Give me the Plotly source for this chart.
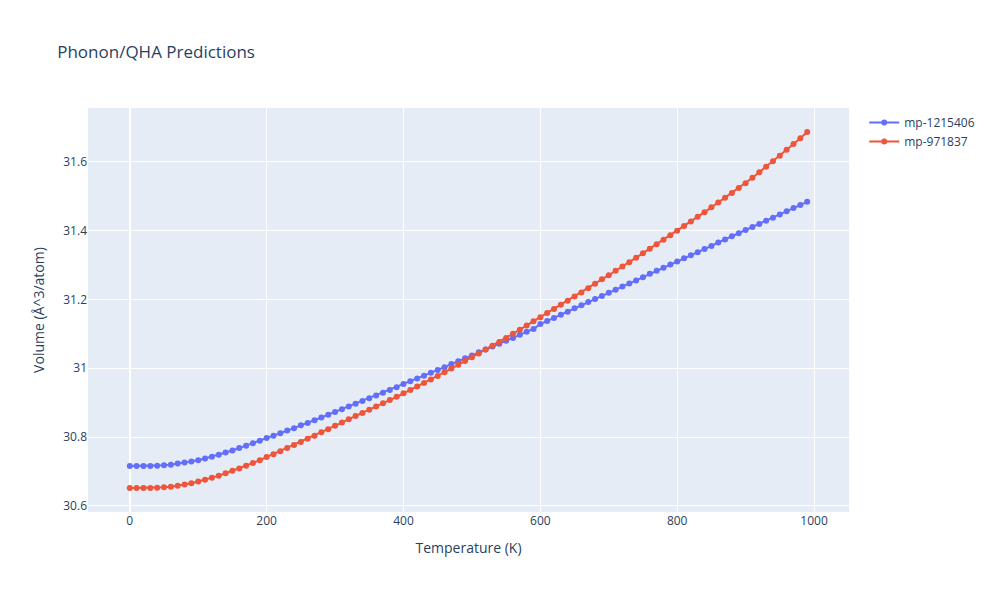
import plotly.graph_objects as go

temps = list(range(0, 1000, 10))
blue = [30.716,30.716,30.716,30.716,30.717,30.718,30.720,30.723,30.726,30.729,
30.733,30.738,30.743,30.749,30.755,30.761,30.768,30.775,30.782,30.789,
30.797,30.804,30.811,30.819,30.826,30.834,30.841,30.849,30.857,30.865,
30.873,30.881,30.889,30.897,30.905,30.913,30.921,30.929,30.937,30.945,
30.954,30.962,30.970,30.978,30.987,30.995,31.003,31.012,31.020,31.029,
31.037,31.046,31.054,31.063,31.071,31.080,31.088,31.097,31.106,31.114,
31.128,31.137,31.146,31.155,31.164,31.174,31.183,31.192,31.201,31.210,
31.219,31.228,31.237,31.246,31.255,31.264,31.274,31.283,31.292,31.301,
31.310,31.319,31.328,31.337,31.346,31.355,31.365,31.374,31.383,31.392,
31.401,31.410,31.419,31.428,31.437,31.446,31.456,31.465,31.474,31.483]
red = [30.652,30.652,30.652,30.652,30.653,30.654,30.656,30.659,30.662,30.666,
30.671,30.676,30.682,30.688,30.695,30.702,30.709,30.717,30.725,30.733,
30.742,30.750,30.759,30.768,30.777,30.786,30.795,30.804,30.814,30.823,
30.833,30.842,30.852,30.861,30.870,30.879,30.889,30.898,30.908,30.917,
30.927,30.937,30.947,30.957,30.967,30.977,30.988,30.999,31.010,31.021,
31.032,31.043,31.054,31.065,31.076,31.088,31.100,31.112,31.124,31.136,
31.148,31.160,31.172,31.184,31.196,31.208,31.220,31.232,31.245,31.258,
31.270,31.283,31.295,31.308,31.321,31.334,31.347,31.360,31.373,31.386,
31.399,31.413,31.426,31.440,31.453,31.467,31.481,31.495,31.509,31.523,
31.537,31.553,31.569,31.585,31.601,31.617,31.634,31.651,31.668,31.686]

fig = go.Figure()
fig.add_trace(go.Scatter(x=temps, y=blue, mode="lines+markers", name="mp-1215406"))
fig.add_trace(go.Scatter(x=temps, y=red, mode="lines+markers", name="mp-971837"))
fig.update_layout(title="Phonon/QHA Predictions",
                  xaxis_title="Temperature (K)", yaxis_title="Volume (Å^3/atom)")
fig.write_html("out.html")
